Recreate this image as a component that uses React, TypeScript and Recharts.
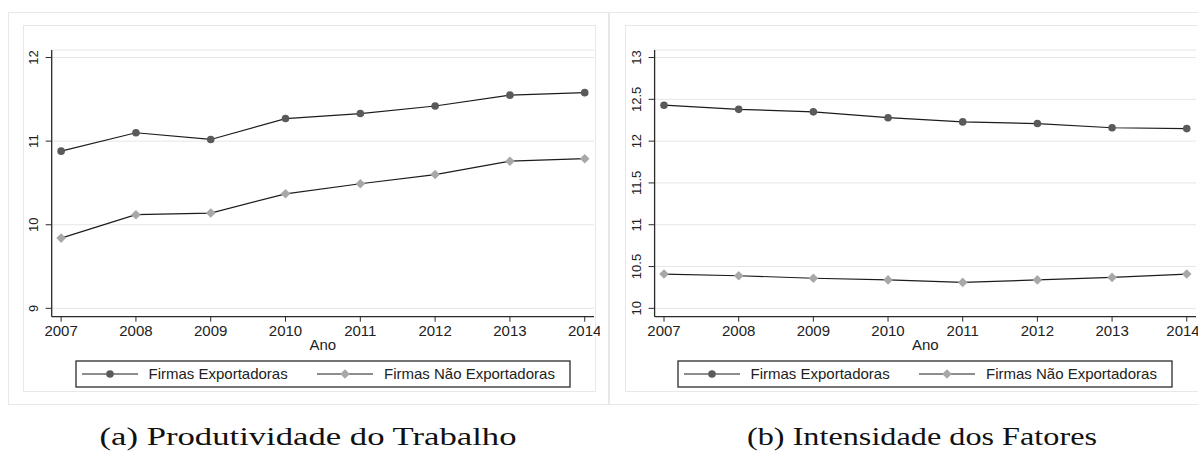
import React from 'react';
import { LineChart, Line, XAxis, YAxis, CartesianGrid, Label } from 'recharts';

const years = [2007, 2008, 2009, 2010, 2011, 2012, 2013, 2014];

// (a) Produtividade do Trabalho
const prodExport = [10.88, 11.1, 11.02, 11.27, 11.33, 11.42, 11.55, 11.58];
const prodNonExport = [9.84, 10.12, 10.14, 10.37, 10.49, 10.6, 10.76, 10.79];
const prodTicks = [9, 10, 11, 12];

// (b) Intensidade dos Fatores
const intensExport = [12.43, 12.38, 12.35, 12.28, 12.23, 12.21, 12.16, 12.15];
const intensNonExport = [10.41, 10.39, 10.36, 10.34, 10.31, 10.34, 10.37, 10.41];
const intensTicks = [10, 10.5, 11, 11.5, 12, 12.5, 13];

const seriesNames = ['Firmas Exportadoras', 'Firmas Não Exportadoras'];
const captions = ['(a) Produtividade do Trabalho', '(b) Intensidade dos Fatores'];
const xTitle = 'Ano';

const SANS = '"Liberation Sans", Arial, Helvetica, sans-serif';
const DARK_MARK = '#5a5a5a';
const LIGHT_MARK = '#a8a8a8';
const FRAME = '#e8e8e8';

const prodData = years.map((year, i) => ({ year, exp: prodExport[i], nonExp: prodNonExport[i] }));
const intensData = years.map((year, i) => ({ year, exp: intensExport[i], nonExp: intensNonExport[i] }));

function CircleDot(props: any) {
    const { cx, cy, index } = props;
    if (cx == null || cy == null) return null;
    return <circle key={`c-${index}`} cx={cx} cy={cy} r={3.8} fill={DARK_MARK} />;
}

function DiamondDot(props: any) {
    const { cx, cy, index } = props;
    if (cx == null || cy == null) return null;
    const s = 4.8;
    return (
        <polygon
            key={`d-${index}`}
            points={`${cx},${cy - s} ${cx + s},${cy} ${cx},${cy + s} ${cx - s},${cy}`}
            fill={LIGHT_MARK}
        />
    );
}

// stata style rotated y labels
function YTick(props: any) {
    const { x, y, payload } = props;
    return (
        <text
            x={0}
            y={0}
            transform={`translate(${x - 5.5},${y}) rotate(-90)`}
            textAnchor="middle"
            fontSize={13}
            fontFamily={SANS}
            fill="#222"
        >
            {payload.value}
        </text>
    );
}

function LegendBox({ left }: { left: number }) {
    return (
        <svg
            width={498}
            height={30}
            style={{ position: 'absolute', left: left - 2, top: 358.7 }}
        >
            <rect x={2} y={2} width={494} height={26} fill="white" stroke="#2b2b2b" strokeWidth={1.3} />
            <line x1={8} x2={64} y1={15} y2={15} stroke="#1c1c1c" strokeWidth={1.2} />
            <circle cx={36} cy={15} r={3.8} fill={DARK_MARK} />
            <text x={74.5} y={20.3} fontSize={15} fontFamily={SANS} fill="#222">
                {seriesNames[0]}
            </text>
            <line x1={243} x2={299} y1={15} y2={15} stroke="#1c1c1c" strokeWidth={1.2} />
            <polygon points="271,10.2 275.8,15 271,19.8 266.2,15" fill={LIGHT_MARK} />
            <text x={310} y={20.3} fontSize={15} fontFamily={SANS} fill="#222">
                {seriesNames[1]}
            </text>
        </svg>
    );
}

interface PanelProps {
    data: { year: number; exp: number; nonExp: number }[];
    ticks: number[];
    domain: [number, number];
    left: number;
    marginLeft: number;
    marginRight: number;
}

function Panel({ data, ticks, domain, left, marginLeft, marginRight }: PanelProps) {
    return (
        <div style={{ position: 'absolute', left, top: 0 }}>
            <LineChart
                width={600}
                height={453}
                data={data}
                margin={{ top: 50, right: marginRight, left: marginLeft, bottom: 116.3 }}
            >
                <CartesianGrid stroke="#e6e6e6" vertical={false} />
                <XAxis
                    dataKey="year"
                    type="number"
                    domain={[2006.874, 2014.124]}
                    ticks={years}
                    allowDataOverflow
                    height={20}
                    tickSize={5}
                    tickMargin={4}
                    tick={{ fontSize: 15, fontFamily: SANS, fill: '#222' }}
                    axisLine={{ stroke: '#2a2a2a', strokeWidth: 1.3 }}
                    tickLine={{ stroke: '#2a2a2a' }}
                >
                    <Label
                        value={xTitle}
                        position="bottom"
                        offset={3}
                        style={{ fontSize: 15, fontFamily: SANS, fill: '#222' }}
                    />
                </XAxis>
                <YAxis
                    type="number"
                    domain={domain}
                    ticks={ticks}
                    allowDataOverflow
                    width={40}
                    tickSize={6}
                    tickMargin={2}
                    tick={<YTick />}
                    axisLine={{ stroke: '#2a2a2a', strokeWidth: 1.3 }}
                    tickLine={{ stroke: '#2a2a2a' }}
                />
                <Line
                    type="linear"
                    dataKey="exp"
                    name={seriesNames[0]}
                    stroke="#1c1c1c"
                    strokeWidth={1.2}
                    dot={CircleDot}
                    activeDot={false}
                    isAnimationActive={false}
                />
                <Line
                    type="linear"
                    dataKey="nonExp"
                    name={seriesNames[1]}
                    stroke="#1c1c1c"
                    strokeWidth={1.2}
                    dot={DiamondDot}
                    activeDot={false}
                    isAnimationActive={false}
                />
            </LineChart>
        </div>
    );
}

export default function App() {
    return (
        <div
            style={{
                position: 'absolute',
                left: 0,
                top: 0,
                width: 1198,
                height: 453,
                background: 'white',
                overflow: 'hidden',
            }}
        >
            {/* graph region frames */}
            <div style={{ position: 'absolute', left: 8, top: 12, width: 601, height: 393, border: `1px solid ${FRAME}`, boxSizing: 'border-box' }} />
            <div style={{ position: 'absolute', left: 23, top: 25, width: 573, height: 367, border: `1px solid ${FRAME}`, boxSizing: 'border-box' }} />
            <div style={{ position: 'absolute', left: 609, top: 12, width: 620, height: 393, border: `1px solid ${FRAME}`, boxSizing: 'border-box', background: 'white' }} />
            <div style={{ position: 'absolute', left: 625, top: 25, width: 600, height: 367, border: `1px solid ${FRAME}`, boxSizing: 'border-box' }} />

            <Panel data={prodData} ticks={prodTicks} domain={[8.9, 12.09]} left={0} marginLeft={11.7} marginRight={6} />
            <Panel data={intensData} ticks={intensTicks} domain={[9.9, 13.09]} left={598} marginLeft={16.6} marginRight={2} />

            <LegendBox left={76} />
            <LegendBox left={677.6} />

            <svg width={1198} height={453} style={{ position: 'absolute', left: 0, top: 0, pointerEvents: 'none' }}>
                <text
                    x={308}
                    y={445}
                    textAnchor="middle"
                    fontSize={26}
                    fontFamily='"Liberation Serif", "DejaVu Serif", serif'
                    fill="#111"
                    textLength={417}
                    lengthAdjust="spacingAndGlyphs"
                >
                    {captions[0]}
                </text>
                <text
                    x={922}
                    y={445}
                    textAnchor="middle"
                    fontSize={26}
                    fontFamily='"Liberation Serif", "DejaVu Serif", serif'
                    fill="#111"
                    textLength={350}
                    lengthAdjust="spacingAndGlyphs"
                >
                    {captions[1]}
                </text>
            </svg>
        </div>
    );
}
